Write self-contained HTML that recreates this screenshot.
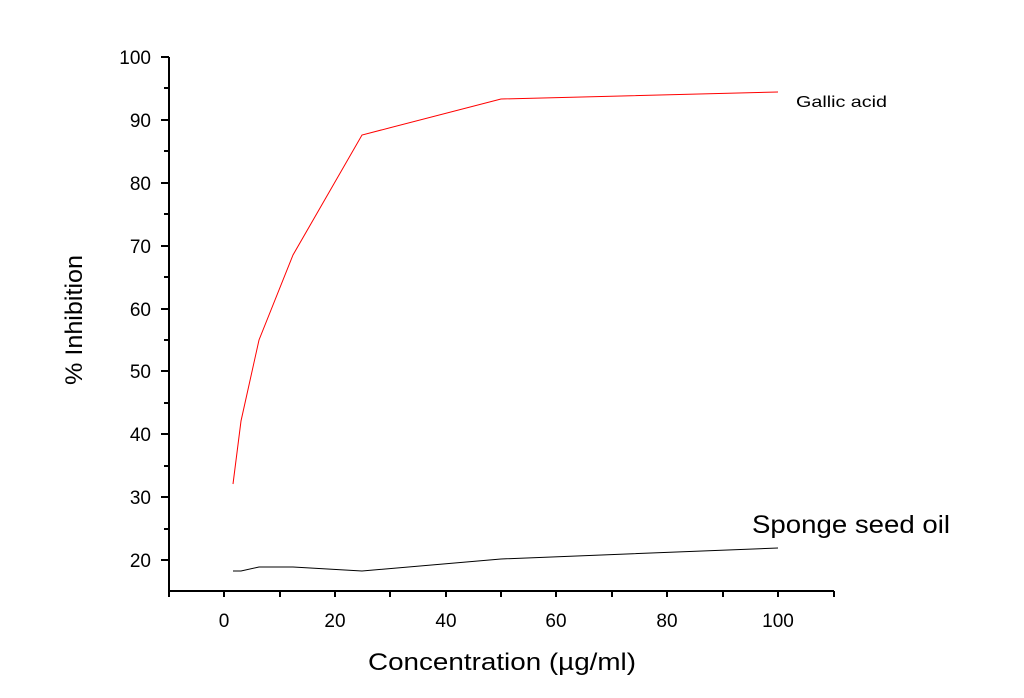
<!DOCTYPE html>
<html><head><meta charset="utf-8"><style>body{margin:0;background:#fff}svg{display:block}</style></head><body>
<svg width="1024" height="698" xmlns="http://www.w3.org/2000/svg" font-family="Liberation Sans, sans-serif">
<g stroke="#000" stroke-width="2" fill="none">
<line x1="169" y1="57" x2="169" y2="592"/>
<line x1="168" y1="591" x2="834" y2="591"/>
<path d="M161 57H169M161 120H169M161 183H169M161 246H169M161 309H169M161 371H169M161 434H169M161 497H169M161 560H169"/>
<path d="M164 88H169M164 151H169M164 214H169M164 277H169M164 340H169M164 403H169M164 466H169M164 529H169"/>
<path d="M169 591V597M224 591V597M335 591V597M446 591V597M556 591V597M667 591V597M778 591V597M834 591V597"/>
<path d="M280 591V597M390 591V597M501 591V597M612 591V597M723 591V597"/>
</g>
<g font-size="19" text-anchor="end">
<text x="151" y="64">100</text><text x="151" y="127">90</text><text x="151" y="190">80</text><text x="151" y="253">70</text><text x="151" y="316">60</text><text x="151" y="378">50</text><text x="151" y="441">40</text><text x="151" y="504">30</text><text x="151" y="567">20</text>
</g>
<g font-size="19" text-anchor="middle">
<text x="224" y="627">0</text><text x="335" y="627">20</text><text x="446" y="627">40</text><text x="556" y="627">60</text><text x="667" y="627">80</text><text x="778" y="627">100</text>
</g>
<text x="368" y="670" font-size="24" textLength="268" lengthAdjust="spacingAndGlyphs">Concentration (µg/ml)</text>
<text transform="translate(82,385) rotate(-90)" font-size="24" textLength="130" lengthAdjust="spacingAndGlyphs">% Inhibition</text>
<polyline fill="none" stroke="#f00" stroke-width="1" points="233,484 241,421 259,340 293,255 362,135 501,99 778,92"/>
<polyline fill="none" stroke="#000" stroke-width="1" points="233,571 241,571 259,567 293,567 362,571 501,559 778,548"/>
<text x="796" y="107" font-size="16" textLength="91" lengthAdjust="spacingAndGlyphs">Gallic acid</text>
<text x="752" y="533" font-size="25" textLength="198" lengthAdjust="spacingAndGlyphs">Sponge seed oil</text>
</svg>
</body></html>
